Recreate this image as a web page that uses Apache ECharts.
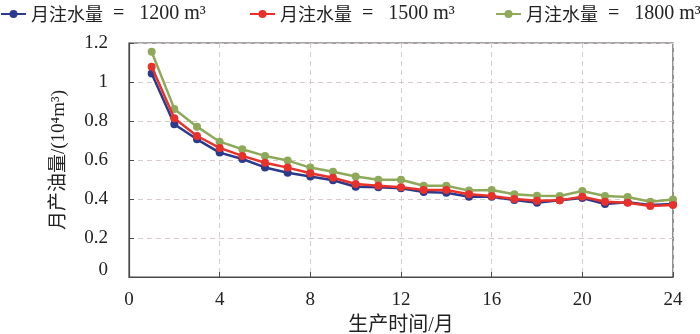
<!DOCTYPE html>
<html>
<head>
<meta charset="utf-8">
<script src="https://cdn.jsdelivr.net/npm/echarts@6/dist/echarts.min.js"></script>
<style>html,body{margin:0;padding:0;background:#fff}#c{width:700px;height:334px}</style>
</head>
<body>
<div id="c"></div>
<script>
const months = [1,2,3,4,5,6,7,8,9,10,11,12,13,14,15,16,17,18,19,20,21,22,23,24];
const seriesNames = ['月注水量 = 1200 m³','月注水量 = 1500 m³','月注水量 = 1800 m³'];
const oil1200 = [1.044,0.783,0.706,0.638,0.605,0.562,0.535,0.515,0.496,0.463,0.460,0.455,0.436,0.432,0.412,0.412,0.395,0.381,0.393,0.405,0.374,0.383,0.369,0.374];
const oil1500 = [1.078,0.814,0.723,0.662,0.621,0.586,0.561,0.532,0.509,0.477,0.468,0.460,0.446,0.446,0.424,0.415,0.400,0.391,0.393,0.412,0.386,0.381,0.364,0.369];
const oil1800 = [1.155,0.862,0.771,0.694,0.655,0.621,0.597,0.561,0.540,0.515,0.499,0.499,0.468,0.468,0.443,0.446,0.424,0.417,0.415,0.441,0.415,0.410,0.386,0.398];
const colors = ['#2b3a8c','#e8312b','#8fa95a'];
const allData = [oil1200, oil1500, oil1800];
const legendLefts = [0, 249, 495];

const font = '"Liberation Serif","Noto Sans CJK SC",serif';
const chart = echarts.init(document.getElementById('c'));
const axisLine = {show:true, lineStyle:{color:'#4a4a4a', width:1.2}};
const legends = seriesNames.map((nm,i)=>({
  left:legendLefts[i], top:4, padding:0, itemWidth:25, itemHeight:10,
  textStyle:{fontFamily:font, fontSize:19, color:'#222',
    rich:{
      c:{fontFamily:'"Noto Sans CJK SC"', fontSize:18, color:'#222'},
      n:{fontFamily:'"Liberation Serif"', fontSize:20, color:'#222'}
    }
  },
  formatter:function(name){
    const parts = name.split(' = ');
    return '{c|' + parts[0] + '}{n|  =   ' + parts[1] + '}';
  },
  data:[nm]
}));
chart.setOption({
  animation:false,
  textStyle:{fontFamily:font},
  legend:legends,
  grid:{left:129, right:27, top:43, bottom:57, show:false, containLabel:false, outerBoundsMode:'none'},
  xAxis:{
    type:'value', min:0, max:24, interval:4,
    name:'生产时间/月', nameLocation:'middle', nameGap:39,
    nameTextStyle:{fontFamily:font, fontSize:20, color:'#222'},
    axisLine:axisLine,
    axisTick:{show:true, inside:true, length:5, lineStyle:{color:'#4a4a4a'}},
    axisLabel:{fontFamily:font, fontSize:19, color:'#222', margin:14},
    splitLine:{show:true, lineStyle:{type:[5,4], color:'#d8caca', width:1}}
  },
  yAxis:{
    type:'value', min:0, max:1.2, interval:0.2,
    name:'月产油量/(10⁴m³)', nameLocation:'middle', nameGap:60, nameRotate:90,
    nameTextStyle:{fontFamily:font, fontSize:19, color:'#222'},
    axisLine:axisLine,
    axisTick:{show:true, inside:true, length:5, lineStyle:{color:'#4a4a4a'}},
    axisLabel:{fontFamily:font, fontSize:19, color:'#222', margin:21,
      formatter:function(v){ return v === 0 ? '{z|0}' : String(v); },
      rich:{z:{fontFamily:font, fontSize:19, color:'#222', padding:[0,0,14,0]}}
    },
    splitLine:{show:true, lineStyle:{type:[5,4], color:'#d8caca', width:1}}
  },
  graphic:[{type:'rect', shape:{x:129, y:43, width:544, height:234}, style:{fill:'none', stroke:'#4a4a4a', lineWidth:1.2}, silent:true, z:-1}],
  series: allData.map((d,i)=>({
    name:seriesNames[i], type:'line',
    data: months.map((m,j)=>[m,d[j]]),
    symbol:'circle', symbolSize:8,
    lineStyle:{color:colors[i], width:2.5},
    itemStyle:{color:colors[i]},
    z: i===1?3:2
  }))
});
</script>
</body>
</html>
